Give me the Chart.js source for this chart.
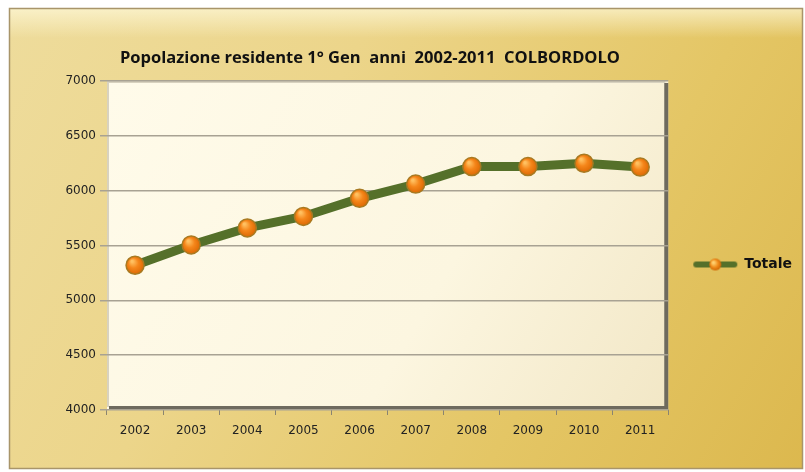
<!DOCTYPE html>
<html>
<head>
<meta charset="utf-8">
<script src="https://cdn.jsdelivr.net/npm/chart.js@4.4.0/dist/chart.umd.min.js"></script>
<style>
  html, body { margin: 0; padding: 0; background: #fff; }
  #wrap { width: 805px; height: 472px; }
</style>
</head>
<body>
<div id="wrap"><canvas id="popChart" width="805" height="472"></canvas></div>
<script>
const years = ['2002', '2003', '2004', '2005', '2006', '2007', '2008', '2009', '2010', '2011'];
const totale = [5320, 5505, 5660, 5765, 5930, 6060, 6220, 6220, 6250, 6215];
const yTicks = [4000, 4500, 5000, 5500, 6000, 6500, 7000];
const chartTitle = 'Popolazione residente 1° Gen  anni  2002-2011  COLBORDOLO';
const seriesName = 'Totale';

// legend marker: short line with a dot in the middle
const marker = document.createElement('canvas');
marker.width = 46; marker.height = 14;
(function () {
  const m = marker.getContext('2d');
  m.strokeStyle = '#55702a'; m.lineWidth = 6; m.lineCap = 'round';
  m.beginPath(); m.moveTo(4, 7); m.lineTo(42, 7); m.stroke();
  const g = m.createRadialGradient(21, 5, 1, 23, 7, 7);
  g.addColorStop(0, '#ffd070'); g.addColorStop(0.5, '#f08a18'); g.addColorStop(1, '#c05a00');
  m.fillStyle = g;
  m.beginPath(); m.arc(23, 7, 6, 0, Math.PI * 2); m.fill();
})();

// radial fill for the orange dots
function dotFill(ctx) {
  const el = ctx.element;
  if (!el || el.x === undefined) return '#f2820e';
  const c = ctx.chart.ctx;
  const g = c.createRadialGradient(el.x - 3, el.y - 4, 1, el.x, el.y, 10);
  g.addColorStop(0, '#ffc060');
  g.addColorStop(0.45, '#f5861a');
  g.addColorStop(1, '#d86400');
  return g;
}

const backdrop = {
  id: 'backdrop',
  beforeDraw(chart) {
    const c = chart.ctx, w = chart.width, h = chart.height;
    c.save();
    c.fillStyle = '#ffffff';
    c.fillRect(0, 0, w, h);
    // gold frame
    const x0 = 9, y0 = 8, x1 = w - 2, y1 = h - 3;
    const g = c.createLinearGradient(x0, y0, x1, y1);
    g.addColorStop(0, '#eedc9c');
    g.addColorStop(0.35, '#ecd58a');
    g.addColorStop(0.7, '#e4c665');
    g.addColorStop(1, '#dcb84e');
    c.fillStyle = g;
    c.fillRect(x0, y0, x1 - x0, y1 - y0);
    const top = c.createLinearGradient(0, y0, 0, y0 + 30);
    top.addColorStop(0, 'rgba(255,250,220,0.7)');
    top.addColorStop(1, 'rgba(255,250,220,0)');
    c.fillStyle = top;
    c.fillRect(x0, y0, x1 - x0, 30);
    c.strokeStyle = '#a8956a'; c.lineWidth = 1.5;
    c.strokeRect(x0 + 0.5, y0 + 0.5, x1 - x0 - 1, y1 - y0 - 1);
    // plot area
    const a = chart.chartArea;
    const pg = c.createLinearGradient(a.left, a.top, a.right, a.bottom);
    pg.addColorStop(0, '#fffbea');
    pg.addColorStop(0.6, '#fcf6e0');
    pg.addColorStop(1, '#f2e7c6');
    c.fillStyle = pg;
    c.fillRect(a.left, a.top, a.right - a.left, a.bottom - a.top);
    c.strokeStyle = '#6e6a5e'; c.lineWidth = 4;
    c.beginPath();
    c.moveTo(a.right - 2, a.top + 2); c.lineTo(a.right - 2, a.bottom - 2); c.lineTo(a.left + 2, a.bottom - 2);
    c.stroke();
    c.strokeStyle = '#d8d2bf'; c.lineWidth = 2;
    c.beginPath();
    c.moveTo(a.left + 1, a.bottom - 3); c.lineTo(a.left + 1, a.top + 1); c.lineTo(a.right - 3, a.top + 1);
    c.stroke();
    c.restore();
  },
  afterDraw(chart) {
    const c = chart.ctx;
    c.save();
    let size = 14;
    c.font = 'bold ' + size + 'px "Open Sans"';
    const tw = c.measureText(chartTitle).width;
    size = size * 500 / tw;
    c.font = 'bold ' + size.toFixed(2) + 'px "Open Sans"';
    c.fillStyle = '#111';
    c.textAlign = 'left'; c.textBaseline = 'middle';
    c.fillText(chartTitle, 120, 58);
    c.restore();
  }
};

new Chart(document.getElementById('popChart'), {
  type: 'line',
  data: {
    labels: years,
    datasets: [{
      label: seriesName,
      data: totale,
      borderColor: '#55702a',
      borderWidth: 9,
      tension: 0,
      pointRadius: 9,
      pointHoverRadius: 9,
      pointBackgroundColor: dotFill,
      pointBorderColor: '#a87a22',
      pointBorderWidth: 1.5,
      pointStyle: 'circle'
    }]
  },
  options: {
    responsive: false,
    animation: false,
    events: [],
    layout: { padding: { left: 10, right: 3, top: 81, bottom: 24 } },
    plugins: {
      title: { display: false },
      tooltip: { enabled: false },
      legend: {
        position: 'right',
        labels: {
          usePointStyle: true,
          pointStyle: marker,
          pointStyleWidth: 44,
          padding: 25,
          color: '#111',
          font: { family: '"DejaVu Sans"', size: 14, weight: 'bold' }
        }
      }
    },
    scales: {
      x: {
        offset: true,
        afterFit(scale) { scale.height = 38; },
        grid: { offset: true, drawOnChartArea: false, drawTicks: true, tickLength: 5, color: '#8a8470' },
        border: { display: false },
        ticks: { color: '#222', padding: 9, font: { family: '"DejaVu Sans"', size: 12 } }
      },
      y: {
        min: 4000,
        max: 7000,
        afterBuildTicks(scale) { scale.ticks = yTicks.map(v => ({ value: v })); },
        afterFit(scale) { scale.width = 97; },
        grid: { color: '#a8a293', lineWidth: 1.5, tickLength: 7, drawOnChartArea: true },
        border: { display: false },
        ticks: {
          color: '#222', padding: 4, font: { family: '"DejaVu Sans"', size: 12 },
          callback: v => String(v)
        }
      }
    }
  },
  plugins: [backdrop]
});
</script>
</body>
</html>
